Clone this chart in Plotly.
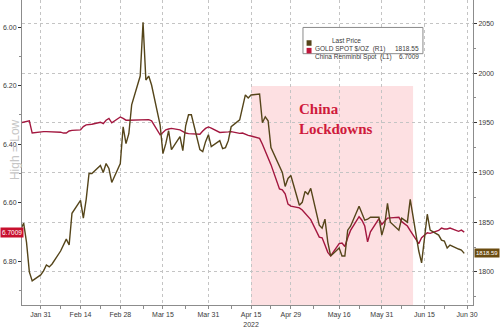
import plotly.graph_objects as go

dates = [
    "2022-01-24", "2022-01-25", "2022-01-26", "2022-01-27", "2022-01-28",
    "2022-01-31", "2022-02-01", "2022-02-02", "2022-02-03", "2022-02-04",
    "2022-02-07", "2022-02-08", "2022-02-09", "2022-02-10", "2022-02-11",
    "2022-02-14", "2022-02-15", "2022-02-16", "2022-02-17", "2022-02-18",
    "2022-02-21", "2022-02-22", "2022-02-23", "2022-02-24", "2022-02-25",
    "2022-02-28", "2022-03-01", "2022-03-02", "2022-03-03", "2022-03-04",
    "2022-03-07", "2022-03-08", "2022-03-09", "2022-03-10", "2022-03-11",
    "2022-03-14", "2022-03-15", "2022-03-16", "2022-03-17", "2022-03-18",
    "2022-03-21", "2022-03-22", "2022-03-23", "2022-03-24", "2022-03-25",
    "2022-03-28", "2022-03-29", "2022-03-30", "2022-03-31", "2022-04-01",
    "2022-04-04", "2022-04-05", "2022-04-06", "2022-04-07", "2022-04-08",
    "2022-04-11", "2022-04-12", "2022-04-13", "2022-04-14", "2022-04-15",
    "2022-04-18", "2022-04-19", "2022-04-20", "2022-04-21", "2022-04-22",
    "2022-04-25", "2022-04-26", "2022-04-27", "2022-04-28", "2022-04-29",
    "2022-05-02", "2022-05-03", "2022-05-04", "2022-05-05", "2022-05-06",
    "2022-05-09", "2022-05-10", "2022-05-11", "2022-05-12", "2022-05-13",
    "2022-05-16", "2022-05-17", "2022-05-18", "2022-05-19", "2022-05-20",
    "2022-05-23", "2022-05-24", "2022-05-25", "2022-05-26", "2022-05-27",
    "2022-05-30", "2022-05-31", "2022-06-01", "2022-06-02", "2022-06-03",
    "2022-06-06", "2022-06-07", "2022-06-08", "2022-06-09", "2022-06-10",
    "2022-06-13", "2022-06-14", "2022-06-15", "2022-06-16", "2022-06-17",
    "2022-06-20", "2022-06-21", "2022-06-22", "2022-06-23", "2022-06-24",
    "2022-06-27", "2022-06-28", "2022-06-29",
]

gold = [
    1843, 1849, 1830, 1800, 1791,
    1797, 1801, 1807, 1805, 1808,
    1821, 1827, 1833, 1827, 1859,
    1872, 1854, 1873, 1899, 1899,
    1907, 1900, 1909, 1904, 1890,
    1909, 1946, 1929, 1939, 1968,
    1997, 2051, 1993, 1997, 1988,
    1948, 1919, 1929, 1942, 1923,
    1936, 1922, 1947, 1958, 1958,
    1923, 1921, 1931, 1938, 1926,
    1932, 1924, 1925, 1932, 1946,
    1953, 1966, 1978, 1975, 1978,
    1979, 1950, 1956, 1952, 1925,
    1905, 1900, 1886, 1894, 1897,
    1867, 1870, 1881, 1878, 1884,
    1847, 1844, 1853, 1830, 1816,
    1824, 1816, 1816, 1842, 1846,
    1866, 1858, 1852, 1853, 1855,
    1855, 1837, 1847, 1869, 1850,
    1842, 1854, 1852, 1850, 1873,
    1821, 1809, 1834, 1858, 1842,
    1837, 1832, 1831, 1824, 1827,
    1823, 1822, 1818.59,
]

cny = [
    6.327, 6.325, 6.322, 6.320, 6.362,
    6.357, 6.357, 6.357, 6.357, 6.357,
    6.359, 6.362, 6.362, 6.355, 6.353,
    6.351, 6.340, 6.334, 6.333, 6.332,
    6.325, 6.330, 6.318, 6.312, 6.327,
    6.307, 6.312, 6.318, 6.318, 6.318,
    6.316, 6.316, 6.316, 6.316, 6.320,
    6.368, 6.360, 6.351, 6.348, 6.346,
    6.351, 6.356, 6.362, 6.364, 6.365,
    6.366, 6.355, 6.346, 6.341, 6.345,
    6.360, 6.360, 6.359, 6.358, 6.357,
    6.363, 6.362, 6.367, 6.370, 6.372,
    6.380, 6.400, 6.425, 6.445, 6.470,
    6.553, 6.556, 6.570, 6.605, 6.612,
    6.618, 6.625, 6.635, 6.645, 6.658,
    6.718, 6.720, 6.745, 6.770, 6.782,
    6.740, 6.738, 6.750, 6.720, 6.695,
    6.648, 6.660, 6.680, 6.734, 6.700,
    6.655, 6.675, 6.665, 6.653, 6.652,
    6.650, 6.665, 6.673, 6.680, 6.696,
    6.740, 6.720, 6.710, 6.703, 6.705,
    6.695, 6.687, 6.690, 6.690, 6.687,
    6.698, 6.694, 6.7009,
]

x_tick_vals = ["2022-01-31", "2022-02-14", "2022-02-28", "2022-03-15", "2022-03-31",
               "2022-04-15", "2022-04-29", "2022-05-16", "2022-05-31", "2022-06-15",
               "2022-06-30"]
x_tick_text = ["Jan 31", "Feb 14", "Feb 28", "Mar 15", "Mar 31", "Apr 15<br>2022",
               "Apr 29", "May 16", "May 31", "Jun 15", "Jun 30"]
x_minor_vals = ["2022-02-07", "2022-02-21", "2022-03-08", "2022-03-23", "2022-04-08",
                "2022-04-22", "2022-05-07", "2022-05-23", "2022-06-07", "2022-06-22"]

cny_ticks = [6.00, 6.20, 6.40, 6.60, 6.80]
cny_minor = [5.90, 6.10, 6.30, 6.50, 6.70, 6.90]
gold_ticks = [1800, 1850, 1900, 1950, 2000, 2050]
gold_minor = [1775, 1825, 1875, 1925, 1975, 2025]

lockdown_start = "2022-04-15"
lockdown_end = "2022-06-11"

gold_last_legend = "1818.55"
cny_last_legend = "6.7009"
gold_badge = 1818.59
cny_badge = 6.7009

GOLD_C = "#55451a"
RED_C = "#a3173f"
AXIS_C = "#8c8c8c"
TXT_C = "#3a3a3a"
FONT = "Liberation Sans"

fig = go.Figure()
fig.add_trace(go.Scatter(x=dates, y=cny, mode="lines", yaxis="y",
                         line=dict(color=RED_C, width=1.4), name="China Renminbi Spot"))
fig.add_trace(go.Scatter(x=dates, y=gold, mode="lines", yaxis="y2",
                         line=dict(color=GOLD_C, width=1.4), name="GOLD SPOT $/OZ"))

fig.update_layout(
    width=500, height=328,
    margin=dict(l=22, r=27, t=0, b=16),
    paper_bgcolor="white", plot_bgcolor="white",
    showlegend=False,
    font=dict(family=FONT, size=7, color=TXT_C),
    xaxis=dict(
        type="date",
        range=["2022-01-24 10:00", "2022-07-02 02:00"],
        tickmode="array", tickvals=x_tick_vals, ticktext=x_tick_text,
        ticks="outside", ticklen=3, tickcolor=AXIS_C,
        showline=True, linecolor=AXIS_C, linewidth=1,
        showgrid=True, gridcolor="#c4c4c4", griddash="dot", gridwidth=1,
        tickfont=dict(size=7, color=TXT_C, family=FONT),
        minor=dict(tickvals=x_minor_vals, ticks="outside", ticklen=3,
                   tickcolor=AXIS_C, showgrid=False),
        zeroline=False, fixedrange=True,
    ),
    yaxis=dict(
        range=[6.95, 5.907],
        tickmode="array", tickvals=cny_ticks,
        ticktext=[f"{v:.2f}" for v in cny_ticks],
        ticks="outside", ticklen=3, tickcolor="#333",
        showline=True, linecolor=AXIS_C, linewidth=1,
        showgrid=False, zeroline=False,
        tickfont=dict(size=7, color=TXT_C, family=FONT),
        minor=dict(tickvals=cny_minor, ticks="outside", ticklen=2,
                   tickcolor=AXIS_C, showgrid=False),
    ),
    yaxis2=dict(
        range=[1766.7, 2073.5],
        overlaying="y", side="right",
        tickmode="array", tickvals=gold_ticks,
        ticktext=[str(v) for v in gold_ticks],
        ticks="outside", ticklen=3, tickcolor="#333",
        showline=True, linecolor=AXIS_C, linewidth=1,
        showgrid=True, gridcolor="#c4c4c4", griddash="dot", gridwidth=1,
        zeroline=False,
        tickfont=dict(size=7, color=TXT_C, family=FONT),
        minor=dict(tickvals=gold_minor, ticks="outside", ticklen=2,
                   tickcolor=AXIS_C, showgrid=False),
    ),
)

# Lockdown shaded region
fig.add_shape(type="rect", xref="x", yref="paper",
              x0=lockdown_start, x1=lockdown_end, y0=0, y1=0.718,
              fillcolor="#fde0e2", line=dict(width=0), layer="below")

fig.add_annotation(xref="paper", yref="paper", x=0.61, y=0.675,
                   xanchor="left", yanchor="top", align="left", showarrow=False,
                   text="<b>China<br>Lockdowns</b>",
                   font=dict(family="Liberation Serif", size=15, color="#cf1a3c"))

# Legend box
fig.add_shape(type="rect", xref="paper", yref="paper",
              x0=0.623, x1=0.889, y0=0.824, y1=0.910,
              fillcolor="white", line=dict(color="#8a8a8a", width=1), layer="above")
fig.add_annotation(xref="paper", yref="paper", x=0.756, y=0.886, showarrow=False,
                   text="Last Price", font=dict(size=6.5, color=TXT_C, family=FONT))
legend_rows = [
    (0.859, GOLD_C, "GOLD SPOT $/OZ  (R1)", gold_last_legend),
    (0.834, "#c0173c", "China Renminbi Spot  (L1)", cny_last_legend),
]
for yy, col, label, val in legend_rows:
    fig.add_shape(type="rect", xref="paper", yref="paper",
                  x0=0.631, x1=0.642, y0=yy - 0.009, y1=yy + 0.009,
                  fillcolor=col, line=dict(width=0), layer="above")
    fig.add_annotation(xref="paper", yref="paper", x=0.646, y=yy, xanchor="left",
                       showarrow=False, text=label,
                       font=dict(size=6.5, color=TXT_C, family=FONT))
    fig.add_annotation(xref="paper", yref="paper", x=0.884, y=yy, xanchor="right",
                       showarrow=False, text=val,
                       font=dict(size=6.5, color=TXT_C, family=FONT))

# Axis title
fig.add_annotation(xref="paper", yref="paper", x=-0.034, y=0.51, textangle=-90,
                   showarrow=False, text="High = Low",
                   font=dict(size=12, color="#c6c6c6", family=FONT))

# Last value badges
fig.add_annotation(xref="paper", yref="y", x=-0.0488, y=cny_badge, xanchor="left",
                   showarrow=False, text=f"{cny_badge:.4f}", bgcolor="#c8102e",
                   borderpad=1, font=dict(size=6.5, color="white", family=FONT))
fig.add_annotation(xref="paper", yref="y2", x=1.003, y=gold_badge, xanchor="left",
                   showarrow=False, text=f"{gold_badge:.2f}", bgcolor="#6b4c10",
                   borderpad=1, font=dict(size=6, color="white", family=FONT))

fig.write_html("out.html")
